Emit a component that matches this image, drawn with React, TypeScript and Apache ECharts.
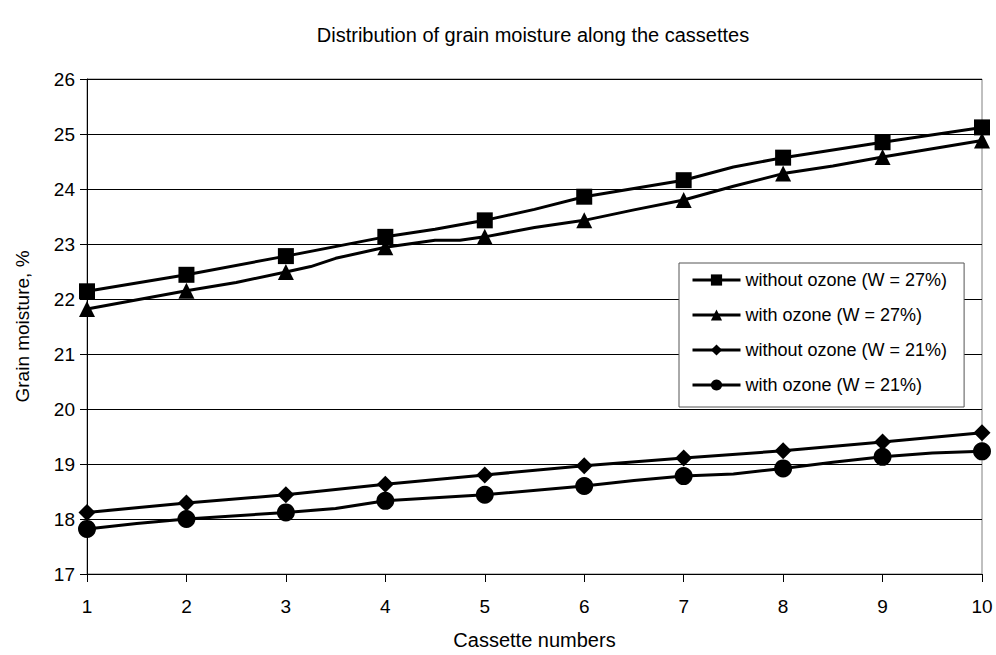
import React, { useEffect, useRef } from "react";
import * as echarts from "echarts";

const titleText = "Distribution of grain moisture along the cassettes";
const xName = "Cassette numbers";
const yName = "Grain moisture, %";

const seriesNames = [
  "without ozone (W = 27%)",
  "with ozone (W = 27%)",
  "without ozone (W = 21%)",
  "with ozone (W = 21%)",
];

// [cassette position, moisture %]; markers are drawn only at whole cassette numbers
const withoutOzone27: [number, number][] = [
  [1, 22.14], [2, 22.44], [3, 22.78], [4, 23.13], [4.5, 23.27], [5, 23.43],
  [5.5, 23.63], [6, 23.86], [7, 24.16], [7.5, 24.4], [8, 24.57], [9, 24.85], [10, 25.12],
];
const withOzone27: [number, number][] = [
  [1, 21.82], [2, 22.15], [2.5, 22.3], [3, 22.49], [3.25, 22.59], [3.5, 22.74],
  [4, 22.94], [4.5, 23.07], [4.75, 23.07], [5, 23.13], [5.5, 23.3], [6, 23.43],
  [6.5, 23.62], [7, 23.8], [7.5, 24.05], [8, 24.28], [8.5, 24.42], [9, 24.58], [10, 24.88],
];
const withoutOzone21: [number, number][] = [
  [1, 18.12], [2, 18.29], [3, 18.44], [4, 18.63], [5, 18.8], [6, 18.97],
  [7, 19.11], [8, 19.24], [9, 19.4], [10, 19.57],
];
const withOzone21: [number, number][] = [
  [1, 17.82], [1.5, 17.92], [2, 18.0], [3, 18.12], [3.5, 18.19], [4, 18.33], [5, 18.44],
  [6, 18.6], [6.5, 18.7], [7, 18.78], [7.5, 18.82], [8, 18.92], [8.5, 19.03], [9, 19.13],
  [9.5, 19.2], [10, 19.23],
];

const symbols = ["rect", "triangle", "diamond", "circle"];
const symbolSizes = [16, 16, 17, 18];
const allData = [withoutOzone27, withOzone27, withoutOzone21, withOzone21];

const FONT = '"Liberation Sans", Arial, sans-serif';

export default function App() {
  const ref = useRef<HTMLDivElement>(null);

  useEffect(() => {
    if (!ref.current) return;
    const chart = echarts.init(ref.current, null, { renderer: "svg" });
    const series = allData.map((d, i) => ({
      name: seriesNames[i],
      type: "line",
      symbol: symbols[i],
      symbolSize: symbolSizes[i],
      showSymbol: true,
      lineStyle: { color: "#000", width: 3 },
      itemStyle: { color: "#000" },
      data: d.map(([x, y]) =>
        Number.isInteger(x) ? { value: [x, y] } : { value: [x, y], symbol: "none" }
      ),
      z: 3,
    }));
    chart.setOption({
      animation: false,
      backgroundColor: "#fff",
      textStyle: { fontFamily: FONT },
      title: {
        text: titleText,
        left: 528,
        top: 20,
        textAlign: "center",
        textStyle: { fontSize: 20, fontWeight: "normal", color: "#000", fontFamily: FONT },
      },
      grid: {
        left: 87,
        right: 14,
        top: 79,
        bottom: 78,
        show: true,
        borderColor: "#808080",
        borderWidth: 1,
        backgroundColor: "transparent",
      },
      legend: {
        orient: "vertical",
        left: 679,
        top: 263,
        padding: [8, 17, 13, 12],
        borderColor: "#555",
        borderWidth: 1,
        backgroundColor: "#fff",
        itemWidth: 48,
        itemHeight: 14,
        itemGap: 17,
        data: seriesNames,
        lineStyle: { width: 3, color: "#000" },
        textStyle: { fontSize: 18, color: "#000", fontFamily: FONT, lineHeight: 14 },
      },
      xAxis: {
        type: "value",
        min: 1,
        max: 10,
        interval: 1,
        name: xName,
        nameLocation: "middle",
        nameGap: 56,
        nameTextStyle: { fontSize: 20, color: "#000", fontFamily: FONT },
        axisLine: { show: true, lineStyle: { color: "#000", width: 1 } },
        axisTick: { show: true, length: 8, lineStyle: { color: "#000" } },
        axisLabel: { fontSize: 19, color: "#000", margin: 23, fontFamily: FONT },
        splitLine: { show: false },
      },
      yAxis: {
        type: "value",
        min: 17,
        max: 26,
        interval: 1,
        name: yName,
        nameLocation: "middle",
        nameGap: 55,
        nameTextStyle: { fontSize: 19, color: "#000", fontFamily: FONT },
        axisLine: { show: true, lineStyle: { color: "#000", width: 1 } },
        axisTick: { show: true, length: 7, lineStyle: { color: "#000" } },
        axisLabel: { fontSize: 19, color: "#000", margin: 12, fontFamily: FONT },
        splitLine: { show: true, lineStyle: { color: "#000", width: 1 } },
      },
      series,
    });
    return () => chart.dispose();
  }, []);

  return (
    <div
      ref={ref}
      style={{ position: "fixed", left: 0, top: 0, width: 996, height: 655, background: "#fff" }}
    />
  );
}
